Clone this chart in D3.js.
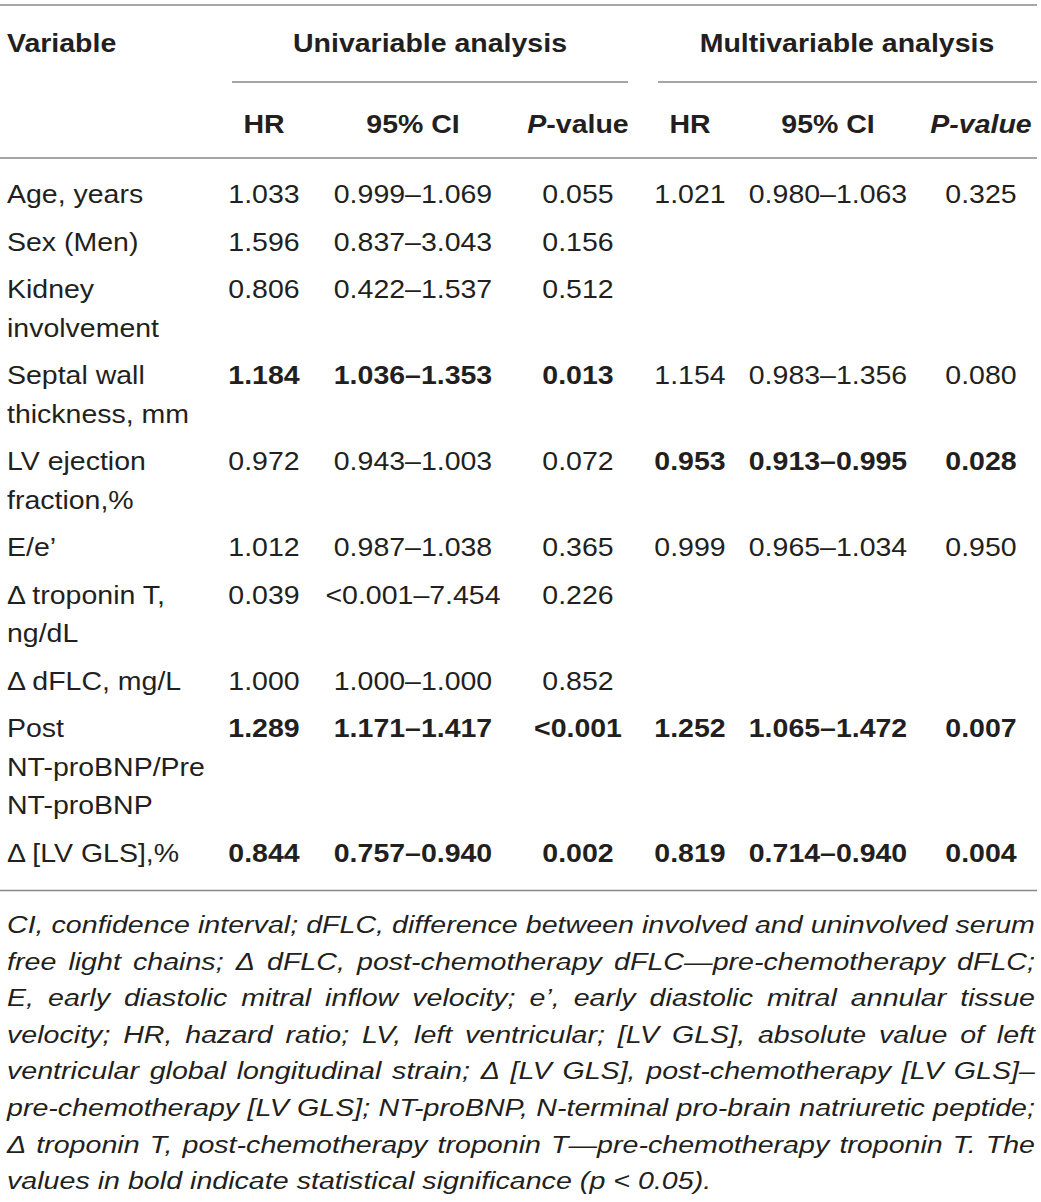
<!DOCTYPE html>
<html>
<head>
<meta charset="utf-8">
<script src="https://cdnjs.cloudflare.com/ajax/libs/d3/7.8.5/d3.min.js"></script>
<style>
  body { margin: 0; background: #fff; }
  text { font-family: "Liberation Sans", Arial, sans-serif; fill: #231f20; }
</style>
</head>
<body>
<svg id="chart" width="1041" height="1202"></svg>
<script>
// table data
var variables = [
  ["Age, years"], ["Sex (Men)"], ["Kidney", "involvement"], ["Septal wall", "thickness, mm"],
  ["LV ejection", "fraction,%"], ["E/e’"], ["Δ troponin T,", "ng/dL"], ["Δ dFLC, mg/L"],
  ["Post", "NT-proBNP/Pre", "NT-proBNP"], ["Δ [LV GLS],%"]
];
var uniHR = ["1.033", "1.596", "0.806", "1.184", "0.972", "1.012", "0.039", "1.000", "1.289", "0.844"];
var uniCI = ["0.999–1.069", "0.837–3.043", "0.422–1.537", "1.036–1.353", "0.943–1.003",
             "0.987–1.038", "<0.001–7.454", "1.000–1.000", "1.171–1.417", "0.757–0.940"];
var uniP = ["0.055", "0.156", "0.512", "0.013", "0.072", "0.365", "0.226", "0.852", "<0.001", "0.002"];
var uniBold = [0, 0, 0, 1, 0, 0, 0, 0, 1, 1];
var multiHR = ["1.021", "", "", "1.154", "0.953", "0.999", "", "", "1.252", "0.819"];
var multiCI = ["0.980–1.063", "", "", "0.983–1.356", "0.913–0.995", "0.965–1.034", "", "", "1.065–1.472", "0.714–0.940"];
var multiP = ["0.325", "", "", "0.080", "0.028", "0.950", "", "", "0.007", "0.004"];
var multiBold = [0, 0, 0, 0, 1, 0, 0, 0, 1, 1];

var groups = ["Univariable analysis", "Multivariable analysis"];
var footnote = [
  "CI, confidence interval; dFLC, difference between involved and uninvolved serum",
  "free light chains; Δ dFLC, post-chemotherapy dFLC—pre-chemotherapy dFLC;",
  "E, early diastolic mitral inflow velocity; e’, early diastolic mitral annular tissue",
  "velocity; HR, hazard ratio; LV, left ventricular; [LV GLS], absolute value of left",
  "ventricular global longitudinal strain; Δ [LV GLS], post-chemotherapy [LV GLS]–",
  "pre-chemotherapy [LV GLS]; NT-proBNP, N-terminal pro-brain natriuretic peptide;",
  "Δ troponin T, post-chemotherapy troponin T—pre-chemotherapy troponin T. The",
  "values in bold indicate statistical significance (p < 0.05)."
];

var svg = d3.select("#chart");
var SX = 1.14, FS = 25, LINE = "#888";

var cols = ["uHR", "uCI", "uP", "mHR", "mCI", "mP"];
var x = d3.scaleOrdinal().domain(cols).range([264, 413, 578, 690, 828, 981]);
var gx = d3.scaleOrdinal().domain(groups).range([430, 847]);

function put(g, px, py, str, anchor, weight, style, size) {
  return g.append("text")
    .attr("transform", "translate(" + px + "," + py + ") scale(" + SX + ",1)")
    .attr("text-anchor", anchor || "start")
    .attr("font-size", size || FS)
    .attr("font-weight", weight || "normal")
    .attr("font-style", style || "normal")
    .text(str);
}

function rule(x1, x2, yy) {
  svg.append("line").attr("x1", x1).attr("x2", x2).attr("y1", yy).attr("y2", yy)
    .attr("stroke", LINE).attr("stroke-width", 1.3);
}

// header
rule(0, 1037, 5);
put(svg, 7, 52, "Variable", "start", "bold");
groups.forEach(function(g) { put(svg, gx(g), 52, g, "middle", "bold"); });
rule(232, 628, 82);
rule(658, 1037, 82);

put(svg, x("uHR"), 133, "HR", "middle", "bold");
put(svg, x("uCI"), 133, "95% CI", "middle", "bold");
var pu = put(svg, x("uP"), 133, "", "middle", "bold");
pu.append("tspan").attr("font-style", "italic").text("P");
pu.append("tspan").text("-value");
put(svg, x("mHR"), 133, "HR", "middle", "bold");
put(svg, x("mCI"), 133, "95% CI", "middle", "bold");
put(svg, x("mP"), 133, "P-value", "middle", "bold", "italic");
rule(0, 1037, 158);

// body rows
var LH = 38.5;
var rowH = variables.map(function(v) { return LH * (v.length - 1) + 47.5; });
var rowY = rowH.map(function(h, i) { return 203 + d3.sum(rowH.slice(0, i)); });
var y = d3.scaleOrdinal().domain(d3.range(variables.length)).range(rowY);

var body = svg.append("g");
variables.forEach(function(v, i) {
  v.forEach(function(s, k) { put(body, 7, y(i) + k * LH, s); });
  var uw = uniBold[i] ? "bold" : "normal";
  var mw = multiBold[i] ? "bold" : "normal";
  put(body, x("uHR"), y(i), uniHR[i], "middle", uw);
  put(body, x("uCI"), y(i), uniCI[i], "middle", uw);
  put(body, x("uP"), y(i), uniP[i], "middle", uw);
  if (multiHR[i]) {
    put(body, x("mHR"), y(i), multiHR[i], "middle", mw);
    put(body, x("mCI"), y(i), multiCI[i], "middle", mw);
    put(body, x("mP"), y(i), multiP[i], "middle", mw);
  }
});
var lastY = y(variables.length - 1);
rule(0, 1037, lastY + 29);

// footnote, justified by hand
var fnFS = 23.5, fnL = 7, fnR = 1035, fnY0 = 933, fnLH = 36.6;
var fn = svg.append("g");
var space = 0.278 * fnFS;
var measured = footnote.map(function(line) {
  return line.split(" ").map(function(w) {
    var t = fn.append("text").attr("font-size", fnFS).attr("font-style", "italic").text(w);
    var len = t.node().getComputedTextLength();
    t.remove();
    return { w: w, len: len };
  });
});
var fx = d3.min(measured.slice(0, -1), function(ws) {
  return (fnR - fnL) / (d3.sum(ws, function(d) { return d.len; }) + (ws.length - 1) * space);
});
measured.forEach(function(ws, li) {
  var total = d3.sum(ws, function(d) { return d.len; }) * fx;
  var gap = li < measured.length - 1 ? (fnR - fnL - total) / (ws.length - 1) : space * fx;
  var cx = fnL;
  ws.forEach(function(d) {
    fn.append("text")
      .attr("transform", "translate(" + cx + "," + (fnY0 + li * fnLH) + ") scale(" + fx + ",1)")
      .attr("font-size", fnFS).attr("font-style", "italic").text(d.w);
    cx += d.len * fx + gap;
  });
});
</script>
</body>
</html>
